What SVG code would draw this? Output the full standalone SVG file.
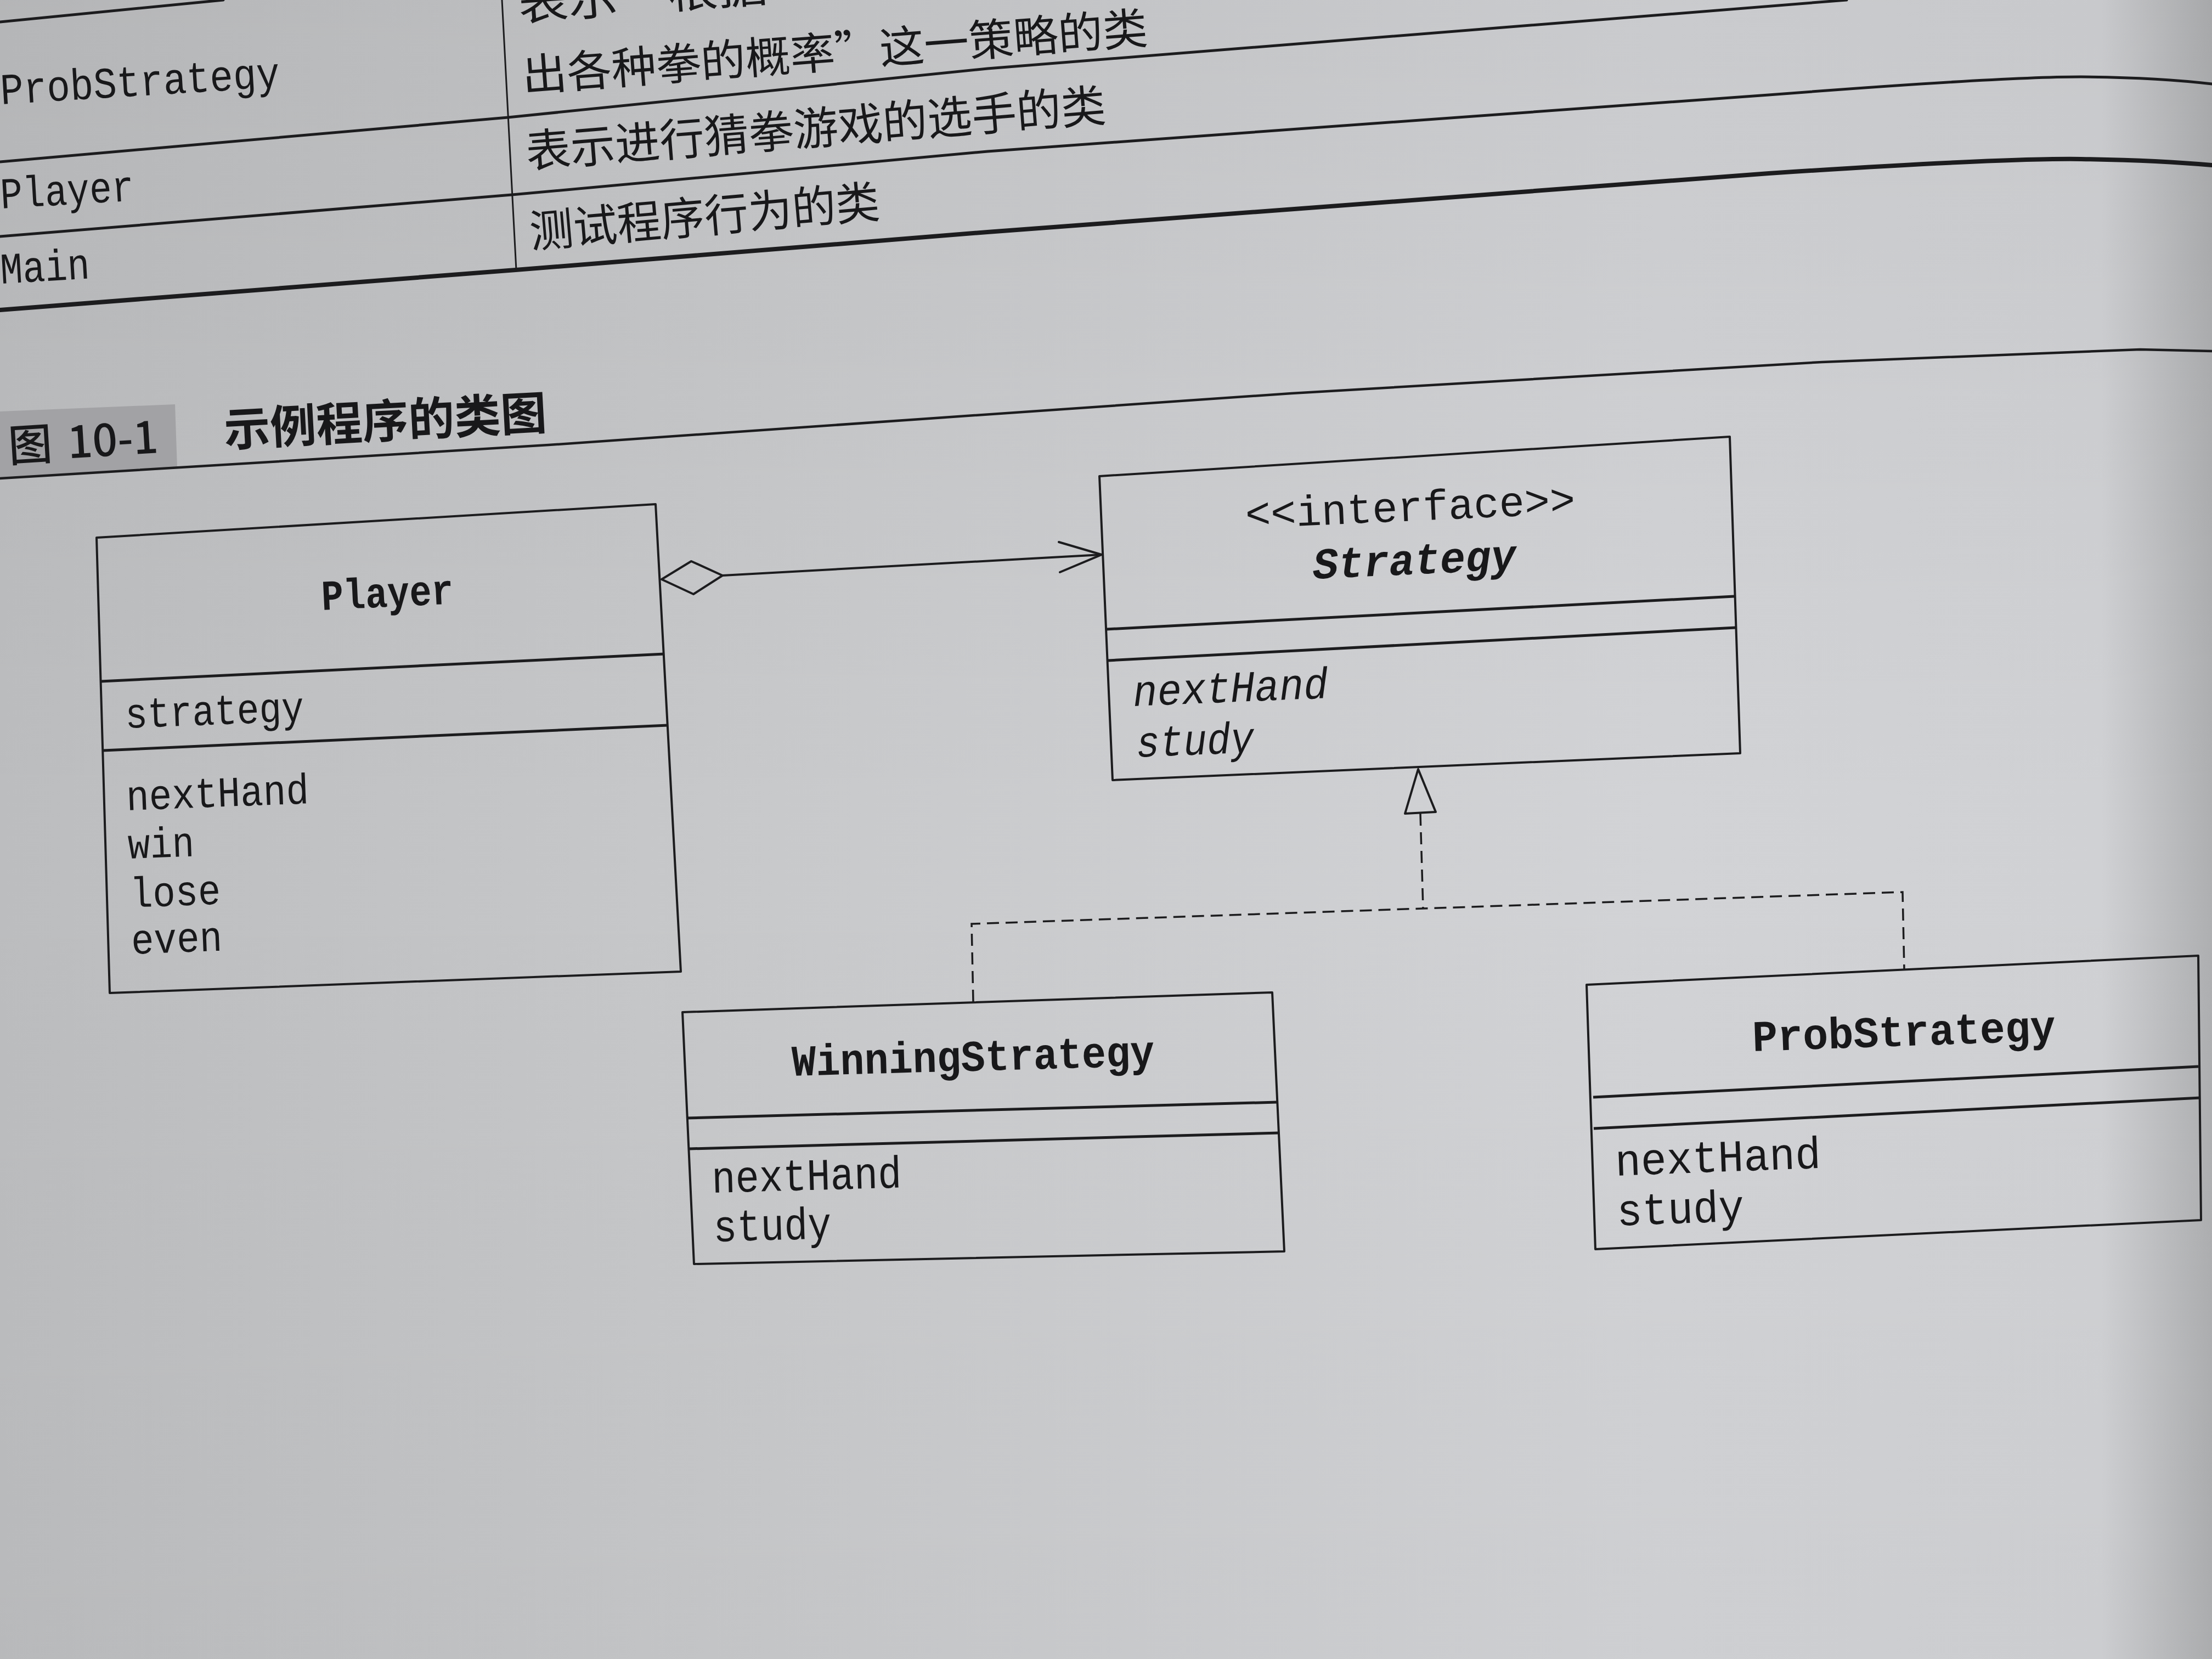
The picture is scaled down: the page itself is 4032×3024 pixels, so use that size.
<svg xmlns="http://www.w3.org/2000/svg" width="4032" height="3024" viewBox="0 0 4032 3024">
<defs>
<linearGradient id="paper" x1="0" y1="0" x2="1" y2="0">
<stop offset="0" stop-color="#bcbdbf"/>
<stop offset="0.35" stop-color="#c8c9cb"/>
<stop offset="0.75" stop-color="#d2d3d6"/>
<stop offset="0.95" stop-color="#d0d1d4"/>
<stop offset="1" stop-color="#aeafb1"/>
</linearGradient>
<linearGradient id="shade" x1="0" y1="0" x2="0" y2="1">
<stop offset="0" stop-color="#000" stop-opacity="0.04"/>
<stop offset="0.5" stop-color="#000" stop-opacity="0"/>
<stop offset="1" stop-color="#000" stop-opacity="0.02"/>
</linearGradient>
<style>
.ink{stroke:#1c1c1e;fill:none;stroke-linecap:round;stroke-linejoin:round}
.hl{stroke-width:5}
.vl{stroke-width:3.5}
.box{stroke:#1c1c1e;fill:none;stroke-width:4;stroke-linejoin:round}
.div{stroke:#1c1c1e;stroke-width:5}
.dash{stroke:#1c1c1e;fill:none;stroke-width:3.5;stroke-dasharray:22 12}
.mono{font-family:"Liberation Mono","DejaVu Sans Mono",monospace;fill:#18181a}
.bold{font-weight:bold}
.ital{font-style:italic}
.cjk{font-family:"Noto Sans CJK SC","Noto Sans",sans-serif;fill:#18181a}
</style>
</defs>
<rect x="0" y="0" width="4032" height="3024" fill="url(#paper)"/>
<rect x="0" y="0" width="4032" height="3024" fill="url(#shade)"/>

<g id="table">
<polyline class="ink hl" points="0,40 407,0"/>
<polyline class="ink hl" points="0,295 926,214 1800,125 3366,0"/>
<path class="ink hl" d="M0,431 L933,355 L1800,276 L3224,173 Q3650,140 3793,140 Q3930,141 4032,153"/>
<path class="ink" stroke-width="8" d="M0,565 L940,492 L1800,423 L3224,316 Q3650,288 3793,290 Q3930,292 4032,301"/>
<line class="ink" stroke-width="3" x1="915" y1="0" x2="941" y2="492"/>
<text class="mono" font-size="80" textLength="510" lengthAdjust="spacingAndGlyphs" transform="translate(2,190) rotate(-3.5)">ProbStrategy</text>
<text class="mono" font-size="80" textLength="244" lengthAdjust="spacingAndGlyphs" transform="translate(2,380) rotate(-3.4)">Player</text>
<text class="mono" font-size="80" textLength="163" lengthAdjust="spacingAndGlyphs" transform="translate(2,517) rotate(-3.4)">Main</text>
<text class="cjk" font-size="82" textLength="455" lengthAdjust="spacingAndGlyphs" transform="translate(947,38) rotate(-4.5)">表示“根据</text>
<text class="cjk" font-size="80" textLength="1143" lengthAdjust="spacingAndGlyphs" transform="translate(954,167) rotate(-4.4)">出各种拳的概率”这一策略的类</text>
<text class="cjk" font-size="82" textLength="1060" lengthAdjust="spacingAndGlyphs" transform="translate(961,306) rotate(-4.6)">表示进行猜拳游戏的选手的类</text>
<text class="cjk" font-size="82" textLength="640" lengthAdjust="spacingAndGlyphs" transform="translate(968,452) rotate(-5)">测试程序行为的类</text>
</g>

<g id="caption">
<polygon points="0,750 319,737 323,853 0,872" fill="#a2a2a5"/>
<polyline class="ink" stroke-width="4.5" points="0,872 1000,811 2354,717 3321,660 3901,637 4032,640"/>
<text class="cjk" font-size="80" font-weight="500" transform="translate(17,842) rotate(-3.5)"><tspan>图</tspan><tspan dx="28">10-1</tspan></text>
<text class="cjk" font-size="84" font-weight="bold" textLength="589" lengthAdjust="spacingAndGlyphs" transform="translate(410,814) rotate(-3.1)">示例程序的类图</text>
</g>

<g id="connectors">
<polygon class="ink" stroke-width="4" points="1206,1056 1260,1023 1317,1049 1264,1083"/>
<line class="ink" stroke-width="4" x1="1317" y1="1049" x2="2008" y2="1011"/>
<polyline class="ink" stroke-width="4" points="1930,988 2008,1011 1932,1043"/>
<polygon class="ink" stroke-width="4" points="2585,1402 2561,1483 2617,1480"/>
<line class="dash" x1="2589" y1="1483" x2="2594" y2="1656"/>
<polyline class="dash" points="1774,1826 1771,1684 2594,1656 3468,1626 3471,1767"/>
</g>

<g id="player">
<polygon class="box" points="176,980 1195,919 1241,1771 200,1810"/>
<line class="div" x1="184" y1="1242" x2="1211" y2="1192"/>
<line class="div" x1="188" y1="1368" x2="1217" y2="1322"/>
<text class="mono bold" font-size="78" textLength="241" lengthAdjust="spacingAndGlyphs" transform="translate(587,1112) rotate(-2.8)">Player</text>
<text class="mono" font-size="78" textLength="326" lengthAdjust="spacingAndGlyphs" transform="translate(229,1327) rotate(-2.2)">strategy</text>
<text class="mono" font-size="78" textLength="333" lengthAdjust="spacingAndGlyphs" transform="translate(231,1477) rotate(-2.2)">nextHand</text>
<text class="mono" font-size="78" textLength="121" lengthAdjust="spacingAndGlyphs" transform="translate(234,1565) rotate(-2.2)">win</text>
<text class="mono" font-size="78" textLength="165" lengthAdjust="spacingAndGlyphs" transform="translate(238,1654) rotate(-2.2)">lose</text>
<text class="mono" font-size="78" textLength="166" lengthAdjust="spacingAndGlyphs" transform="translate(240,1739) rotate(-2.2)">even</text>
</g>

<g id="strategy">
<polygon class="box" points="2004,868 3153,796 3172,1373 2028,1422"/>
<line class="div" x1="2016" y1="1147" x2="3161" y2="1087"/>
<line class="div" x1="2020" y1="1204" x2="3164" y2="1144"/>
<text class="mono" font-size="78" textLength="602" lengthAdjust="spacingAndGlyphs" transform="translate(2271,963) rotate(-2.6)">&lt;&lt;interface&gt;&gt;</text>
<text class="mono bold ital" font-size="80" textLength="371" lengthAdjust="spacingAndGlyphs" transform="translate(2394,1055) rotate(-2.6)">Strategy</text>
<text class="mono ital" font-size="80" textLength="356" lengthAdjust="spacingAndGlyphs" transform="translate(2066,1287) rotate(-2.4)">nextHand</text>
<text class="mono ital" font-size="80" textLength="215" lengthAdjust="spacingAndGlyphs" transform="translate(2072,1380) rotate(-2.4)">study</text>
</g>

<g id="winning">
<polygon class="box" points="1244,1845 2319,1809 2341,2281 1265,2304"/>
<line class="div" x1="1251" y1="2038" x2="2328" y2="2009"/>
<line class="div" x1="1257" y1="2094" x2="2332" y2="2065"/>
<text class="mono bold" font-size="80" textLength="661" lengthAdjust="spacingAndGlyphs" transform="translate(1444,1961) rotate(-1.6)">WinningStrategy</text>
<text class="mono" font-size="82" textLength="346" lengthAdjust="spacingAndGlyphs" transform="translate(1298,2174) rotate(-1.6)">nextHand</text>
<text class="mono" font-size="82" textLength="215" lengthAdjust="spacingAndGlyphs" transform="translate(1301,2263) rotate(-1.6)">study</text>
</g>

<g id="prob">
<polygon class="box" points="2892,1795 4007,1742 4012,2224 2908,2277"/>
<line class="div" x1="2904" y1="2000" x2="4007" y2="1944"/>
<line class="div" x1="2905" y1="2057" x2="4011" y2="2001"/>
<text class="mono bold" font-size="80" textLength="553" lengthAdjust="spacingAndGlyphs" transform="translate(3195,1916) rotate(-2)">ProbStrategy</text>
<text class="mono" font-size="82" textLength="375" lengthAdjust="spacingAndGlyphs" transform="translate(2945,2143) rotate(-2.2)">nextHand</text>
<text class="mono" font-size="82" textLength="232" lengthAdjust="spacingAndGlyphs" transform="translate(2948,2234) rotate(-2.2)">study</text>
</g>
</svg>
